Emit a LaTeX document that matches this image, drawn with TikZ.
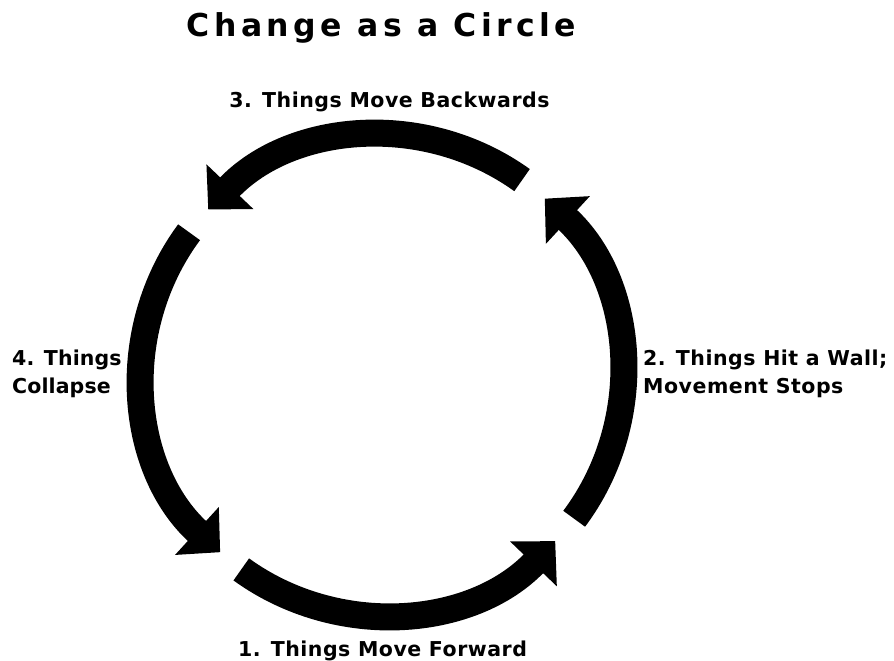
\documentclass[tikz,border=0pt]{standalone}
\usepackage{fontspec}
\setmainfont{DejaVu Sans}
\usetikzlibrary{arrows.meta}
\begin{document}
\begin{tikzpicture}[x=1pt,y=1pt,
  cyclearrow/.style={line width=27pt, line cap=butt,
    -{Triangle[length=31.5pt,width=63pt]}},
  lbl/.style={inner sep=0pt, font=\fontsize{20.5}{28}\selectfont\bfseries\addfontfeatures{LetterSpace=2.5}},
  lbltight/.style={inner sep=0pt, font=\fontsize{20.5}{28}\selectfont\bfseries\addfontfeatures{LetterSpace=0.5}},
  ttl/.style={inner sep=0pt, font=\fontsize{31.5}{38}\selectfont\bfseries\addfontfeatures{LetterSpace=14}}]
\useasboundingbox (0,0) rectangle (894,-661);
\coordinate (C) at (382,-375);
% title
\node[ttl, anchor=base] (title) at (381.5,-37) {Change as a Circle};
% arcs
\draw[cyclearrow] ([shift={(C)}]234.1:240) arc[start angle=234.1, end angle=316.2, radius=240];
\draw[cyclearrow] ([shift={(C)}]-36.8:240) arc[start angle=-36.8, end angle=47.3, radius=240];
\draw[cyclearrow] ([shift={(C)}]54.3:240) arc[start angle=54.3, end angle=136.4, radius=240];
\draw[cyclearrow] ([shift={(C)}]143.5:240) arc[start angle=143.5, end angle=227.6, radius=240];
% labels
\node[lbl, anchor=base] (l1) at (382.5,-656) {1. Things Move Forward};
\node[lbl, anchor=base] (l3) at (389.5,-107) {3. Things Move Backwards};
\node[lbl, anchor=base west, align=left] (l2) at (643,-393) {2. Things Hit a Wall;\\Movement Stops};
\node[lbltight, anchor=base west, align=left] (l4) at (12,-393) {4. Things\\Collapse};
\end{tikzpicture}
\end{document}
